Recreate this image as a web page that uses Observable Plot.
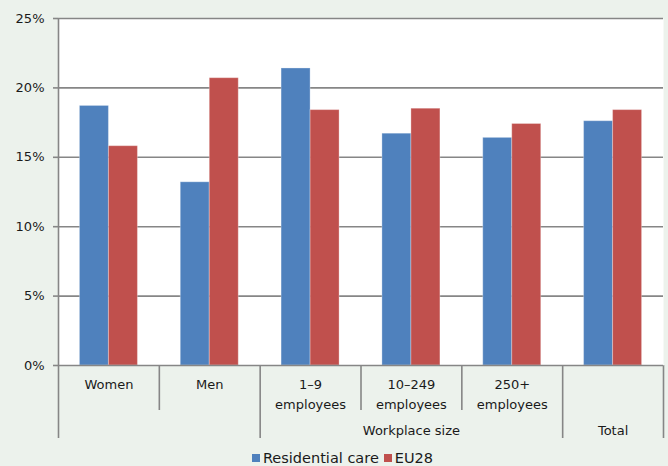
<!DOCTYPE html>
<html>
<head>
<meta charset="utf-8">
<script src="https://cdn.jsdelivr.net/npm/d3@7"></script>
<script src="https://cdn.jsdelivr.net/npm/@observablehq/plot@0.6"></script>
<style>
  html, body { margin: 0; padding: 0; background: #ecf2ec; }
  #chart { width: 668px; height: 466px; font-family: "DejaVu Sans", Verdana, sans-serif; color: #1a1a1a; }
  #chart svg { display: block; background: transparent; overflow: visible; }
  #chart svg.bars { position: relative; z-index: 1; }
  .legend { display: flex; justify-content: center; align-items: center; margin-top: 8px; padding-left: 22px; font-size: 14.5px; line-height: 20px; }
  .legend .item { display: flex; align-items: center; margin-right: 5px; }
  .legend .swatch { width: 8px; height: 8px; margin-right: 3px; }
</style>
</head>
<body>
<div id="chart"></div>
<script>
// Categories along the x axis (row 1 labels), the second-tier groups, and the two series.
const categories = ["Women", "Men", "1–9\nemployees", "10–249\nemployees", "250+\nemployees", ""];
const groups = [
  {label: "Workplace size", from: 2, to: 5},
  {label: "Total", from: 5, to: 6}
];
const seriesNames = ["Residential care", "EU28"];
const residentialCare = [18.7, 13.2, 21.4, 16.7, 16.4, 17.6];
const eu28 = [15.8, 20.7, 18.4, 18.5, 17.4, 18.4];
const yTicks = [0, 5, 10, 15, 20, 25];
const colors = ["#4f81bd", "#c0504d"];

const W = 668, ML = 58, MR = 5;
const n = categories.length;
const bandPx = (W - ML - MR) / n;
const barFrac = 29 / bandPx; // each bar's width as a fraction of a category slot

// One row per bar: category index i, series index s, value
const rows = [];
[residentialCare, eu28].forEach((vals, s) => {
  vals.forEach((v, i) => rows.push({i, s, series: seriesNames[s], value: v}));
});

const grid = "#868686";
const font = {fontFamily: "DejaVu Sans, Verdana, sans-serif", fontSize: "13px", color: "#1a1a1a", background: "transparent", overflow: "visible"};

const barsPlot = Plot.plot({
  width: W, height: 367,
  marginTop: 18, marginBottom: 2, marginLeft: ML, marginRight: MR,
  className: "bars",
  style: font,
  x: {type: "linear", domain: [0, n], axis: null},
  y: {domain: [0, 25], axis: null},
  color: {domain: seriesNames, range: colors},
  marks: [
    Plot.frame({fill: "white", stroke: null}),
    Plot.ruleY(yTicks.filter(d => d > 0), {stroke: grid, strokeWidth: 1.6}),
    Plot.rectY(rows, {
      x1: d => d.i + 0.5 - (1 - d.s) * barFrac,
      x2: d => d.i + 0.5 + d.s * barFrac,
      y1: 0, y2: "value",
      fill: "series",
      stroke: "white", strokeOpacity: 0.3, strokeWidth: 1
    }),
    Plot.ruleX([0], {stroke: grid, strokeWidth: 1.6}),
    Plot.ruleY([0], {stroke: grid, strokeWidth: 1.6}),
    Plot.axisY({ticks: yTicks, tickFormat: d => `${d}%`, tickSize: 5, tickPadding: 9, stroke: grid, strokeWidth: 1.6, fill: "#1a1a1a", label: null})
  ]
});

// Hierarchical category axis: boundaries, category labels, group labels
const groupEdges = new Set([0, n]);
groups.forEach(g => { groupEdges.add(g.from); groupEdges.add(g.to); });
const boundaries = d3.range(n + 1).map(b => ({b, long: groupEdges.has(b)}));

const axisPlot = Plot.plot({
  width: W, height: 73,
  marginTop: 0, marginBottom: 0, marginLeft: ML, marginRight: MR,
  style: font,
  x: {type: "linear", domain: [0, n], axis: null},
  y: {type: "linear", domain: [0, 1, 2], range: [-2, 43, 71], axis: null},
  marks: [
    Plot.ruleX(boundaries, {x: "b", y1: 0, y2: d => d.long ? 2 : 1, stroke: grid, strokeWidth: 1.6}),
    Plot.text(categories.map((c, i) => ({c, i})), {
      x: d => d.i + 0.5, y: 0, text: "c", lineAnchor: "top", dy: 9, lineHeight: 1.54, fill: "#1a1a1a", fontSize: 13
    }),
    Plot.text(groups, {
      x: d => (d.from + d.to) / 2, y: 1.5, text: "label", dy: 6, fill: "#1a1a1a", fontSize: 13
    })
  ]
});

const chart = document.getElementById("chart");
chart.appendChild(barsPlot);
chart.appendChild(axisPlot);

const legend = document.createElement("div");
legend.className = "legend";
seriesNames.forEach((name, s) => {
  const item = document.createElement("div");
  item.className = "item";
  const sw = document.createElement("span");
  sw.className = "swatch";
  sw.style.background = colors[s];
  const label = document.createElement("span");
  label.textContent = name;
  item.appendChild(sw);
  item.appendChild(label);
  legend.appendChild(item);
});
chart.appendChild(legend);
</script>
</body>
</html>
